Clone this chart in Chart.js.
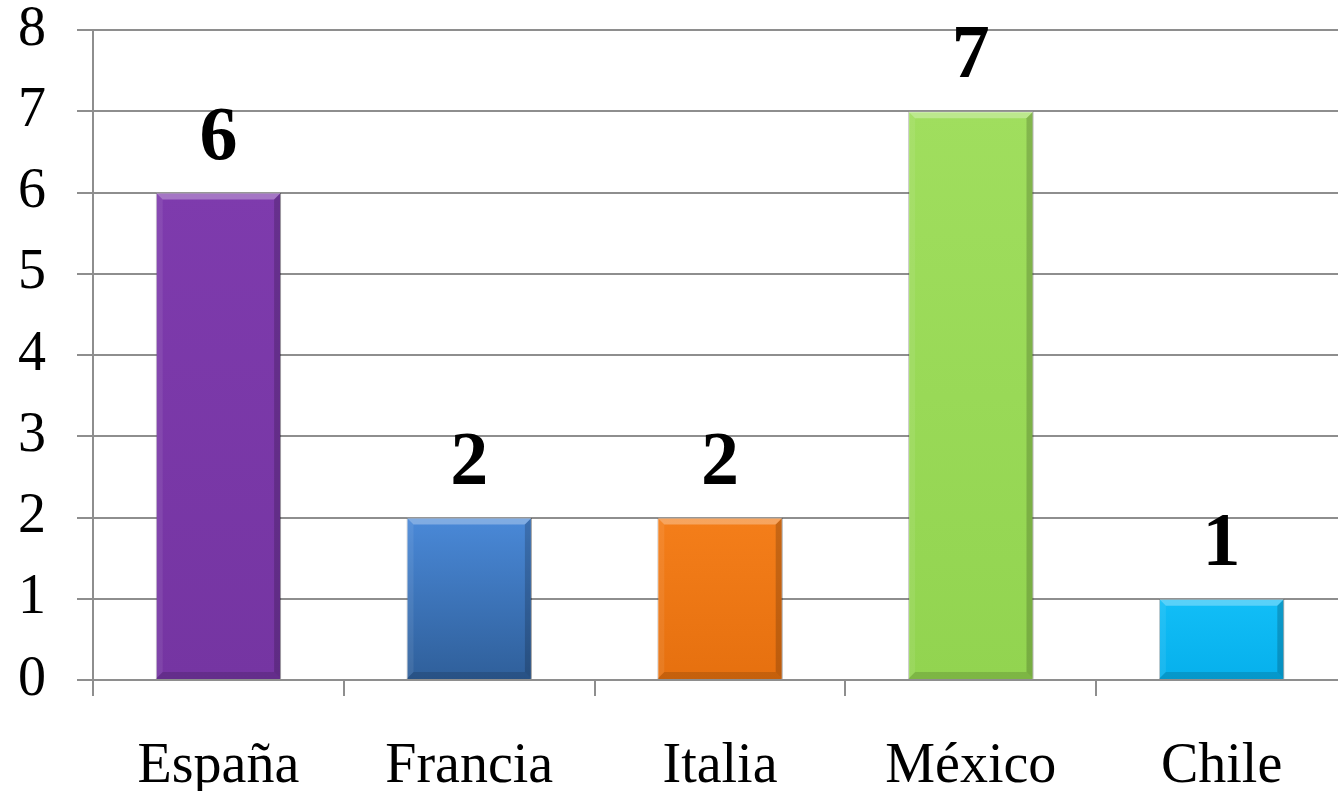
<!DOCTYPE html>
<html><head><meta charset="utf-8">
<script src="https://cdn.jsdelivr.net/npm/chart.js@4/dist/chart.umd.min.js"></script>
<style>html,body{margin:0;padding:0;background:#fff;overflow:hidden}#wrap{width:1338px;height:791px;overflow:hidden}</style>
</head><body><div id="wrap"><canvas id="c" width="1347" height="791"></canvas></div>
<script>
const categories = ["España", "Francia", "Italia", "México", "Chile"];
const values = [6, 2, 2, 7, 1];
const yTicks = [0, 1, 2, 3, 4, 5, 6, 7, 8];
const topColors = ["#7E3BAD", "#4A89D8", "#F47E1A", "#A0DE5E", "#12BEF7"];
const bottomColors = ["#7535A2", "#2F5F9A", "#E6700F", "#92D450", "#06B0EC"];

const GRID = "#8E8E8E";
const FONT = "'Liberation Serif', 'Times New Roman', serif";

function barFill(ctx) {
  const chart = ctx.chart;
  const i = ctx.dataIndex;
  const ys = chart.scales && chart.scales.y;
  if (!ys) return topColors[i];
  const t = ys.getPixelForValue(values[i]);
  const b = ys.getPixelForValue(0);
  if (!isFinite(t) || !isFinite(b) || t === b) return topColors[i];
  const g = chart.ctx.createLinearGradient(0, t, 0, b);
  g.addColorStop(0, topColors[i]);
  g.addColorStop(1, bottomColors[i]);
  return g;
}

const bevel = {
  id: 'bevel',
  afterDatasetsDraw(chart) {
    const c = chart.ctx;
    chart.getDatasetMeta(0).data.forEach((el) => {
      const l = el.x - el.width / 2, r = el.x + el.width / 2, t = el.y, b = el.base;
      const d = 7;
      c.save();
      c.fillStyle = 'rgba(255,255,255,0.30)';
      c.beginPath(); c.moveTo(l, t); c.lineTo(r, t); c.lineTo(r - d, t + d); c.lineTo(l + d, t + d); c.closePath(); c.fill();
      c.fillStyle = 'rgba(255,255,255,0.08)';
      c.beginPath(); c.moveTo(l, t); c.lineTo(l + d, t + d); c.lineTo(l + d, b - d); c.lineTo(l, b); c.closePath(); c.fill();
      c.fillStyle = 'rgba(0,0,0,0.18)';
      c.beginPath(); c.moveTo(r, t); c.lineTo(r - d, t + d); c.lineTo(r - d, b - d); c.lineTo(r, b); c.closePath(); c.fill();
      c.fillStyle = 'rgba(0,0,0,0.14)';
      c.beginPath(); c.moveTo(l, b); c.lineTo(r, b); c.lineTo(r - d, b - d); c.lineTo(l + d, b - d); c.closePath(); c.fill();
      c.restore();
    });
  }
};

const valueLabels = {
  id: 'valueLabels',
  afterDatasetsDraw(chart) {
    const c = chart.ctx;
    const ds = chart.data.datasets[0];
    c.save();
    c.font = "bold 76px " + FONT;
    c.fillStyle = "#000";
    c.textAlign = "center";
    c.textBaseline = "alphabetic";
    chart.getDatasetMeta(0).data.forEach((el, i) => {
      c.fillText(String(ds.data[i]), el.x, el.y - 34);
    });
    c.restore();
  }
};

new Chart(document.getElementById('c'), {
  type: 'bar',
  data: {
    labels: categories,
    datasets: [{
      data: values,
      backgroundColor: barFill,
      borderColor: 'rgba(0,0,0,0.25)',
      borderWidth: 1,
      barPercentage: 0.5,
      categoryPercentage: 1.0
    }]
  },
  options: {
    responsive: false,
    animation: false,
    layout: { padding: { top: 30, right: 0, left: 0, bottom: 0 } },
    plugins: { legend: { display: false }, tooltip: { enabled: false } },
    scales: {
      y: {
        min: 0, max: 8,
        afterFit(s) { s.width = 93; s.paddingTop = 0; s.paddingBottom = 0; },
        afterBuildTicks(s) { s.ticks = yTicks.map(v => ({ value: v })); },
        ticks: { color: '#000', font: { family: FONT, size: 56 }, padding: 31, stepSize: 1 },
        grid: { color: GRID, lineWidth: 2, tickLength: 16, drawTicks: true },
        border: { display: true, color: GRID, width: 2 }
      },
      x: {
        afterFit(s) { s.height = 111; s.paddingLeft = 0; s.paddingRight = 0; },
        ticks: { color: '#000', font: { family: FONT, size: 56 }, padding: 38, maxRotation: 0 },
        grid: { display: true, offset: true, drawOnChartArea: false, drawTicks: true, tickLength: 16, color: GRID, lineWidth: 2 },
        border: { display: true, color: GRID, width: 2 }
      }
    }
  },
  plugins: [bevel, valueLabels]
});
</script>
</body></html>
